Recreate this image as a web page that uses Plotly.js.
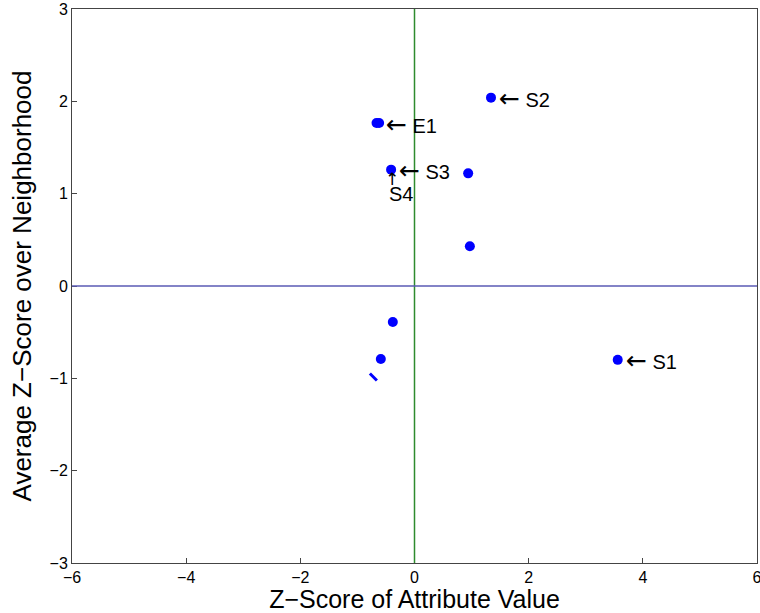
<!DOCTYPE html>
<html><head><meta charset="utf-8">
<script src="https://cdn.plot.ly/plotly-3.0.1.min.js"></script>
<style>body{margin:0;background:#fff}#chart{width:760px;height:613px}</style>
</head><body><div id="chart"></div>
<script>
const zAttr = [1.34, -0.665, -0.62, -0.41, 0.94, 0.97, -0.38, -0.59, 3.56];
const zNeigh = [2.04, 1.765, 1.765, 1.26, 1.22, 0.43, -0.39, -0.79, -0.80];
const dashX = [-0.72];
const dashY = [-0.985];
const labelNames = ['S1', 'S2', 'S3', 'E1'];
const labelX = [3.56, 1.34, -0.41, -0.64];
const labelY = [-0.80, 2.04, 1.26, 1.765];
const s4X = -0.41, s4Y = 1.26;

const font = 'Liberation Sans, Arial, Helvetica, sans-serif';
const annotations = labelNames.map((n, i) => ({
  x: labelX[i], y: labelY[i], xref: 'x', yref: 'y',
  text: '<span style="font-family:DejaVu Sans;font-size:25px">\u2190</span> ' + n,
  showarrow: false, xanchor: 'left', yanchor: 'middle', xshift: 6, yshift: -1,
  font: {family: font, size: 20, color: '#000'}
}));
annotations.push({x: s4X, y: s4Y, xref: 'x', yref: 'y', text: '\u2191', showarrow: false,
  xanchor: 'center', yanchor: 'top', yshift: 3, xshift: 1, font: {family: 'DejaVu Sans', size: 17, color: '#000'}});
annotations.push({x: s4X, y: s4Y, xref: 'x', yref: 'y', text: 'S4', showarrow: false,
  xanchor: 'center', yanchor: 'top', yshift: -11, xshift: 10, font: {family: font, size: 20, color: '#000'}});

const data = [{
  x: zAttr, y: zNeigh, type: 'scatter', mode: 'markers',
  marker: {color: '#0000ff', size: 10}, hoverinfo: 'none'
}, {
  x: dashX, y: dashY, type: 'scatter', mode: 'markers',
  marker: {symbol: 'line-nw', color: '#0000ff', size: 7, line: {color: '#0000ff', width: 3}}, hoverinfo: 'none'
}];
const axisCommon = {
  showgrid: false, zeroline: false, showline: true, mirror: true,
  linecolor: '#444', linewidth: 1, ticks: 'inside', ticklen: 5, tickcolor: '#444',
  tickfont: {family: font, size: 16, color: '#000'}, ticklabeloverflow: 'allow'
};
const layout = {
  width: 760, height: 613,
  margin: {l: 72, r: 3, t: 9, b: 50},
  paper_bgcolor: '#fff', plot_bgcolor: '#fff',
  showlegend: false,
  xaxis: Object.assign({}, axisCommon, {range: [-6, 6], dtick: 2,
    title: {text: 'Z\u2212Score of Attribute Value', font: {family: font, size: 25, color: '#000'}, standoff: 1}}),
  yaxis: Object.assign({}, axisCommon, {range: [-3, 3], dtick: 1,
    title: {text: 'Average Z\u2212Score over Neighborhood', font: {family: font, size: 26, color: '#000'}, standoff: 10}}),
  shapes: [
    {type: 'line', xref: 'x', yref: 'y', x0: 0, x1: 0, y0: -3, y1: 3, line: {color: '#2e8b2e', width: 1.5}},
    {type: 'line', xref: 'x', yref: 'y', x0: -6, x1: 6, y0: 0, y1: 0, line: {color: '#5a5ab4', width: 1.5}}
  ],
  annotations: annotations
};
Plotly.newPlot('chart', data, layout, {staticPlot: true});
</script></body></html>
